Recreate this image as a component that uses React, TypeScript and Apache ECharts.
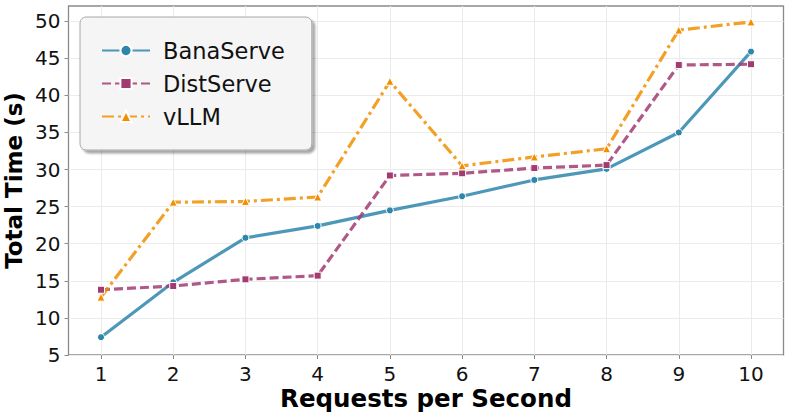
import React, { useEffect, useRef } from "react";
import * as echarts from "echarts";

const xValues = [1, 2, 3, 4, 5, 6, 7, 8, 9, 10];
const banaServe = [7.4, 14.8, 20.8, 22.4, 24.5, 26.4, 28.6, 30.1, 35.0, 45.9];
const distServe = [13.8, 14.3, 15.2, 15.7, 29.2, 29.5, 30.2, 30.6, 44.1, 44.2];
const vllm = [12.8, 25.6, 25.7, 26.3, 41.9, 30.5, 31.7, 32.8, 48.8, 49.9];
const yTicks = [5, 10, 15, 20, 25, 30, 35, 40, 45, 50];

const FONT = "DejaVu Sans";

export default function App() {
  const ref = useRef<HTMLDivElement>(null);
  useEffect(() => {
    if (!ref.current) return;
    const chart = echarts.init(ref.current, null, { renderer: "svg" });
    const mk = (name: string, data: number[], color: string, lineType: any, symbol: string, symbolSize: number) => ({
      name,
      type: "line",
      data: xValues.map((x, i) => [x, data[i]]),
      symbol,
      symbolSize,
      lineStyle: { color, width: 3.2, type: lineType, opacity: 0.85 },
      itemStyle: { color, borderColor: "#ffffff", borderWidth: 1, opacity: 1 },
      emphasis: { disabled: true },
    });
    chart.setOption({
      animation: false,
      textStyle: { fontFamily: FONT },
      grid: {
        left: 68.5,
        top: 6,
        right: 9.5,
        bottom: 62,
        containLabel: false,
        outerBoundsMode: "none",
        show: true,
        borderColor: "#8a8a8a",
        borderWidth: 1.3,
        backgroundColor: "#ffffff",
      },
      legend: {
        orient: "vertical",
        left: 80,
        top: 17,
        padding: [22, 27, 22, 21],
        itemWidth: 48,
        itemHeight: 14,
        itemGap: 10,
        backgroundColor: "#f5f5f5",
        borderColor: "#a8a8a8",
        borderWidth: 1,
        borderRadius: 6,
        shadowColor: "rgba(0,0,0,0.35)",
        shadowOffsetX: 3,
        shadowOffsetY: 3,
        shadowBlur: 2,
        textStyle: { fontFamily: FONT, fontSize: 22.5, color: "#111", padding: [0, 0, 0, 8] },
        data: ["BanaServe", "DistServe", "vLLM"],
      },
      xAxis: {
        type: "value",
        min: 0.55,
        max: 10.45,
        name: "Requests per Second",
        nameLocation: "middle",
        nameGap: 31,
        nameMoveOverlap: false,
        nameTextStyle: { fontFamily: FONT, fontSize: 24.5, lineHeight: 25, fontWeight: "bold", color: "#000" },
        axisLine: { show: false },
        axisTick: { show: true, customValues: xValues, length: 4, lineStyle: { color: "#8a8a8a" } },
        axisLabel: { customValues: xValues, fontSize: 20, lineHeight: 20, color: "#111", margin: 9, fontFamily: FONT },
        splitLine: { show: true, lineStyle: { color: "#ebebeb", width: 1 } },
      },
      yAxis: {
        type: "value",
        min: 5,
        max: 52.05,
        name: "Total Time (s)",
        nameLocation: "middle",
        nameGap: 43,
        nameMoveOverlap: false,
        nameTextStyle: { fontFamily: FONT, fontSize: 23, fontWeight: "bold", color: "#000" },
        axisLine: { show: false },
        axisTick: { show: true, customValues: yTicks, length: 4, lineStyle: { color: "#8a8a8a" } },
        axisLabel: { customValues: yTicks, fontSize: 20, color: "#111", margin: 8, fontFamily: FONT },
        splitLine: { show: true, lineStyle: { color: "#ebebeb", width: 1 } },
      },
      series: [
        mk("BanaServe", banaServe, "#2E86AB", "solid", "circle", 7),
        mk("DistServe", distServe, "#A23B72", [9, 4], "rect", 7),
        mk("vLLM", vllm, "#F18F01", [12, 4, 3, 4], "triangle", 8),
      ],
    });
    return () => chart.dispose();
  }, []);
  return <div ref={ref} style={{ width: 793, height: 417, position: "absolute", left: 0, top: 0 }} />;
}
